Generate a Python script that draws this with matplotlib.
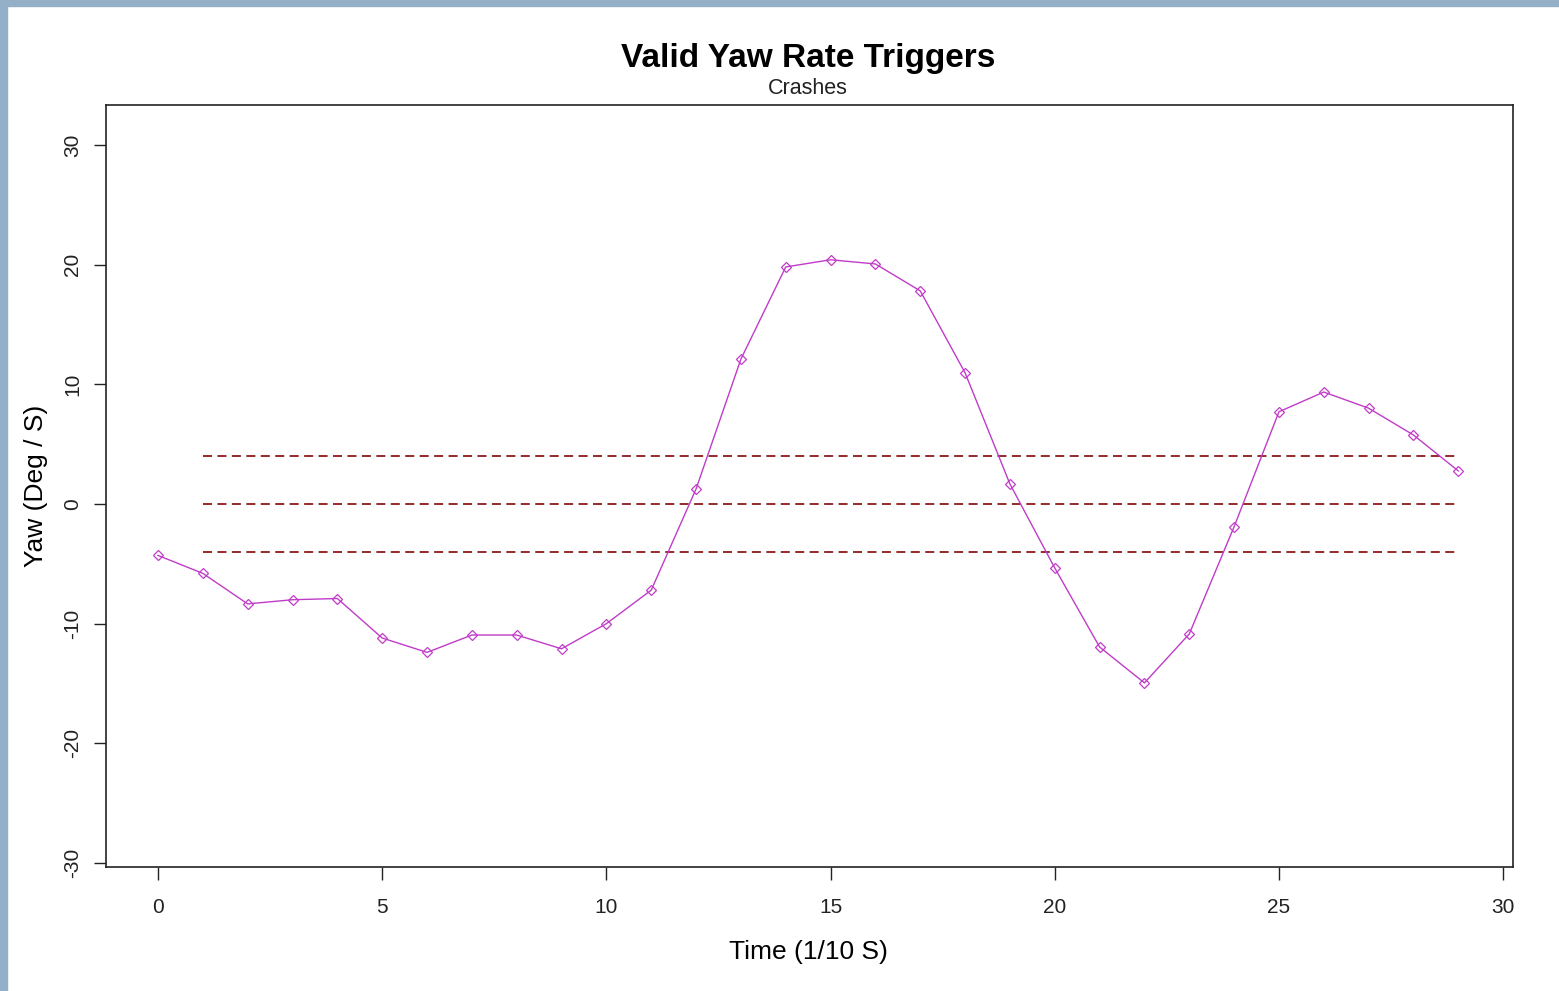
import matplotlib
matplotlib.use("Agg")
import matplotlib.pyplot as plt
from matplotlib.patches import Rectangle

plt.rcParams['font.family'] = ['Liberation Sans', 'DejaVu Sans']
plt.rcParams['axes.unicode_minus'] = False

time = list(range(30))
yaw = [-4.3, -5.8, -8.35, -8.0, -7.9, -11.2, -12.4, -10.95, -10.95, -12.1,
       -10.0, -7.2, 1.25, 12.1, 19.8, 20.4, 20.05, 17.8, 10.95, 1.67,
       -5.35, -11.95, -14.95, -10.86, -1.9, 7.7, 9.35, 8.0, 5.76, 2.76]
thresholds = [4, 0, -4]
thr_start, thr_end = 1, 29
xticks = [0, 5, 10, 15, 20, 25, 30]
yticks = [-30, -20, -10, 0, 10, 20, 30]

W, H = 1559, 991
fig = plt.figure(figsize=(W / 100, H / 100), dpi=100)
fig.patch.set_facecolor('white')

# screenshot border
fig.patches.append(Rectangle((0, 1 - 6 / H), 1, 6 / H, transform=fig.transFigure,
                             color='#94b0c8', zorder=0))
fig.patches.append(Rectangle((0, 0), 7 / W, 1, transform=fig.transFigure,
                             color='#94b0c8', zorder=0))

L, R, T, B = 106, 1513, 105, 867
ax = fig.add_axes([L / W, (H - B) / H, (R - L) / W, (B - T) / H])

for t in thresholds:
    ax.plot([thr_start, thr_end], [t, t], color='#8b1a1a', lw=1.3,
            linestyle=(0, (5, 3)))

ax.plot(time, yaw, color='#c03cc8', lw=1.0, marker='D', markersize=5,
        markerfacecolor='none', markeredgecolor='#c03cc8', markeredgewidth=0.9)

ax.set_xlim(-1.16, 30.22)
ax.set_ylim(-30.33, 33.33)
ax.set_xticks(xticks)
ax.set_yticks(yticks)
ax.tick_params(axis='both', direction='out', length=9, width=1.0,
               labelsize=15, colors='#222222')
ax.tick_params(axis='x', pad=13)
ax.tick_params(axis='y', pad=8)
for lab in ax.get_yticklabels():
    lab.set_rotation(90)
    lab.set_va('center')
for s in ax.spines.values():
    s.set_linewidth(1.2)
    s.set_color('#222222')

fig.text(808 / W, 1 - 58 / H, 'Valid Yaw Rate Triggers', ha='center', va='center',
         fontsize=24, fontweight='bold')
fig.text(808 / W, 1 - 89 / H, 'Crashes', ha='center', va='center', fontsize=15.5,
         color='#222222')
fig.text(808 / W, 1 - 952 / H, 'Time (1/10 S)', ha='center', va='center', fontsize=19)
fig.text(36 / W, 1 - 486 / H, 'Yaw (Deg / S)', ha='center', va='center', fontsize=19,
         rotation=90)

fig.savefig('out.png', dpi=100)
